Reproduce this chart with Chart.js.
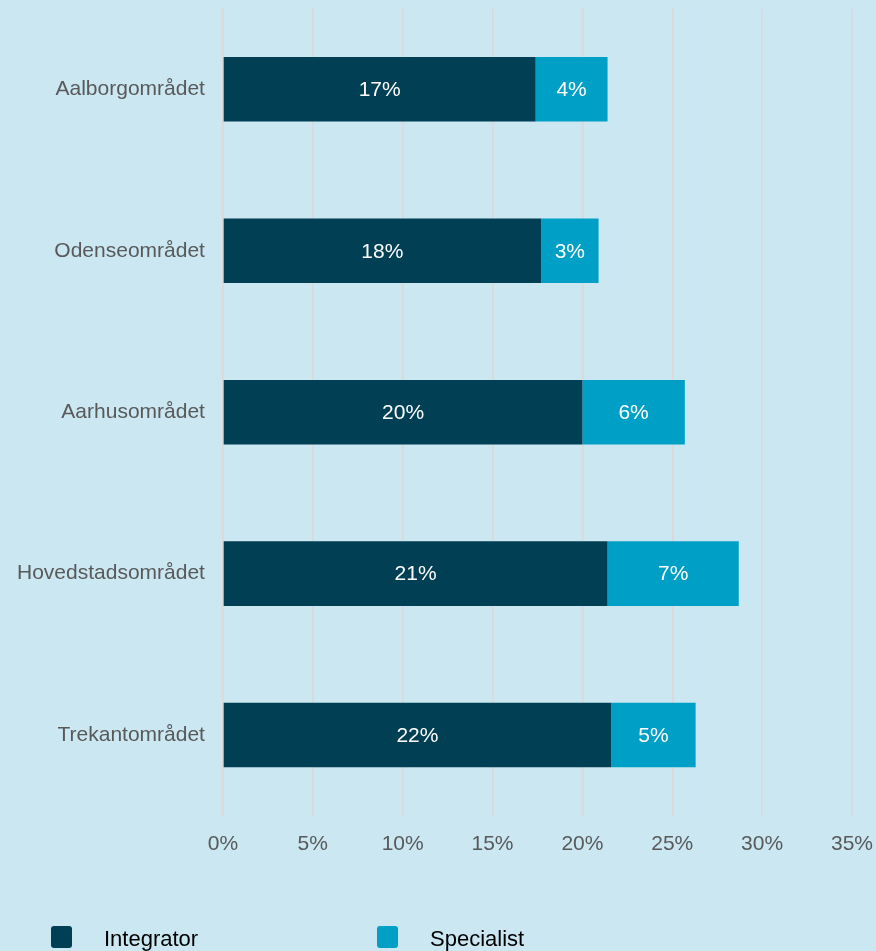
<!DOCTYPE html>
<html>
<head>
<meta charset="utf-8">
<script src="https://cdn.jsdelivr.net/npm/chart.js@4.4.1/dist/chart.umd.min.js"></script>
<style>
  html, body { margin: 0; padding: 0; background: #cae7f2; overflow: hidden; }
  #wrap { position: relative; width: 876px; height: 951px; overflow: hidden; }
  #chart { position: absolute; left: 0; top: -14px; }
  #legend { position: absolute; left: 0; top: 926px; font-family: "Liberation Sans", Arial, sans-serif; font-size: 22px; color: #000; }
  .item { position: absolute; white-space: nowrap; }
  .box { position: absolute; width: 21px; height: 22px; border-radius: 3px; top: 0; }
  .txt { position: absolute; top: 1px; line-height: 24px; }
</style>
</head>
<body>
<div id="wrap">
  <canvas id="chart" width="889" height="967"></canvas>
  <div id="legend"></div>
</div>
<script>
// regions and shares (in %)
const regions = ['Aalborgområdet', 'Odenseområdet', 'Aarhusområdet', 'Hovedstadsområdet', 'Trekantområdet'];
const integrator = [17.4, 17.7, 20.0, 21.4, 21.6];
const specialist = [4.0, 3.2, 5.7, 7.3, 4.7];
const seriesNames = ['Integrator', 'Specialist'];
const seriesColors = ['#003f54', '#00a0c6'];
const xTicks = [0, 5, 10, 15, 20, 25, 30, 35];

const font = '"Liberation Sans", Arial, sans-serif';

// white labels in the middle of each bar piece
const barLabels = {
    id: 'barLabels',
    afterDatasetsDraw(chart) {
        const ctx = chart.ctx;
        ctx.save();
        ctx.fillStyle = '#ffffff';
        ctx.font = '21px ' + font;
        ctx.textAlign = 'center';
        ctx.textBaseline = 'middle';
        chart.data.datasets.forEach((ds, i) => {
            const meta = chart.getDatasetMeta(i);
            meta.data.forEach((bar, j) => {
                const v = ds.data[j];
                ctx.fillText(Math.round(v) + '%', (bar.x + bar.base) / 2, bar.y + 1);
            });
        });
        ctx.restore();
    }
};

new Chart(document.getElementById('chart'), {
    type: 'bar',
    data: {
        labels: regions,
        datasets: [
            { label: seriesNames[0], data: integrator, backgroundColor: seriesColors[0] },
            { label: seriesNames[1], data: specialist, backgroundColor: seriesColors[1] }
        ]
    },
    options: {
        indexAxis: 'y',
        responsive: false,
        animation: false,
        barPercentage: 0.4,
        categoryPercentage: 1,
        layout: { padding: { top: -14, left: 7, right: -9, bottom: 80 } },
        plugins: {
            legend: { display: false },
            tooltip: { enabled: false }
        },
        scales: {
            x: {
                stacked: true,
                min: 0,
                max: 35,
                afterBuildTicks: (scale) => { scale.ticks = xTicks.map(v => ({ value: v })); },
                grid: { color: '#d9d9d9', lineWidth: 1.5, drawTicks: false },
                border: { display: false },
                ticks: {
                    padding: 16,
                    color: '#595959',
                    font: { family: font, size: 21 },
                    callback: (v) => v + '%'
                }
            },
            y: {
                stacked: true,
                grid: { display: false },
                border: { display: false },
                ticks: {
                    padding: 10,
                    color: '#595959',
                    font: { family: font, size: 21 }
                }
            }
        }
    },
    plugins: [barLabels]
});

// legend
const legend = document.getElementById('legend');
const legendX = [51, 377];
seriesNames.forEach((name, i) => {
    const item = document.createElement('div');
    item.className = 'item';
    item.style.left = legendX[i] + 'px';
    item.innerHTML = '<span class="box" style="left:0;background:' + seriesColors[i] + '"></span>' +
        '<span class="txt" style="left:53px">' + name + '</span>';
    legend.appendChild(item);
});
</script>
</body>
</html>
